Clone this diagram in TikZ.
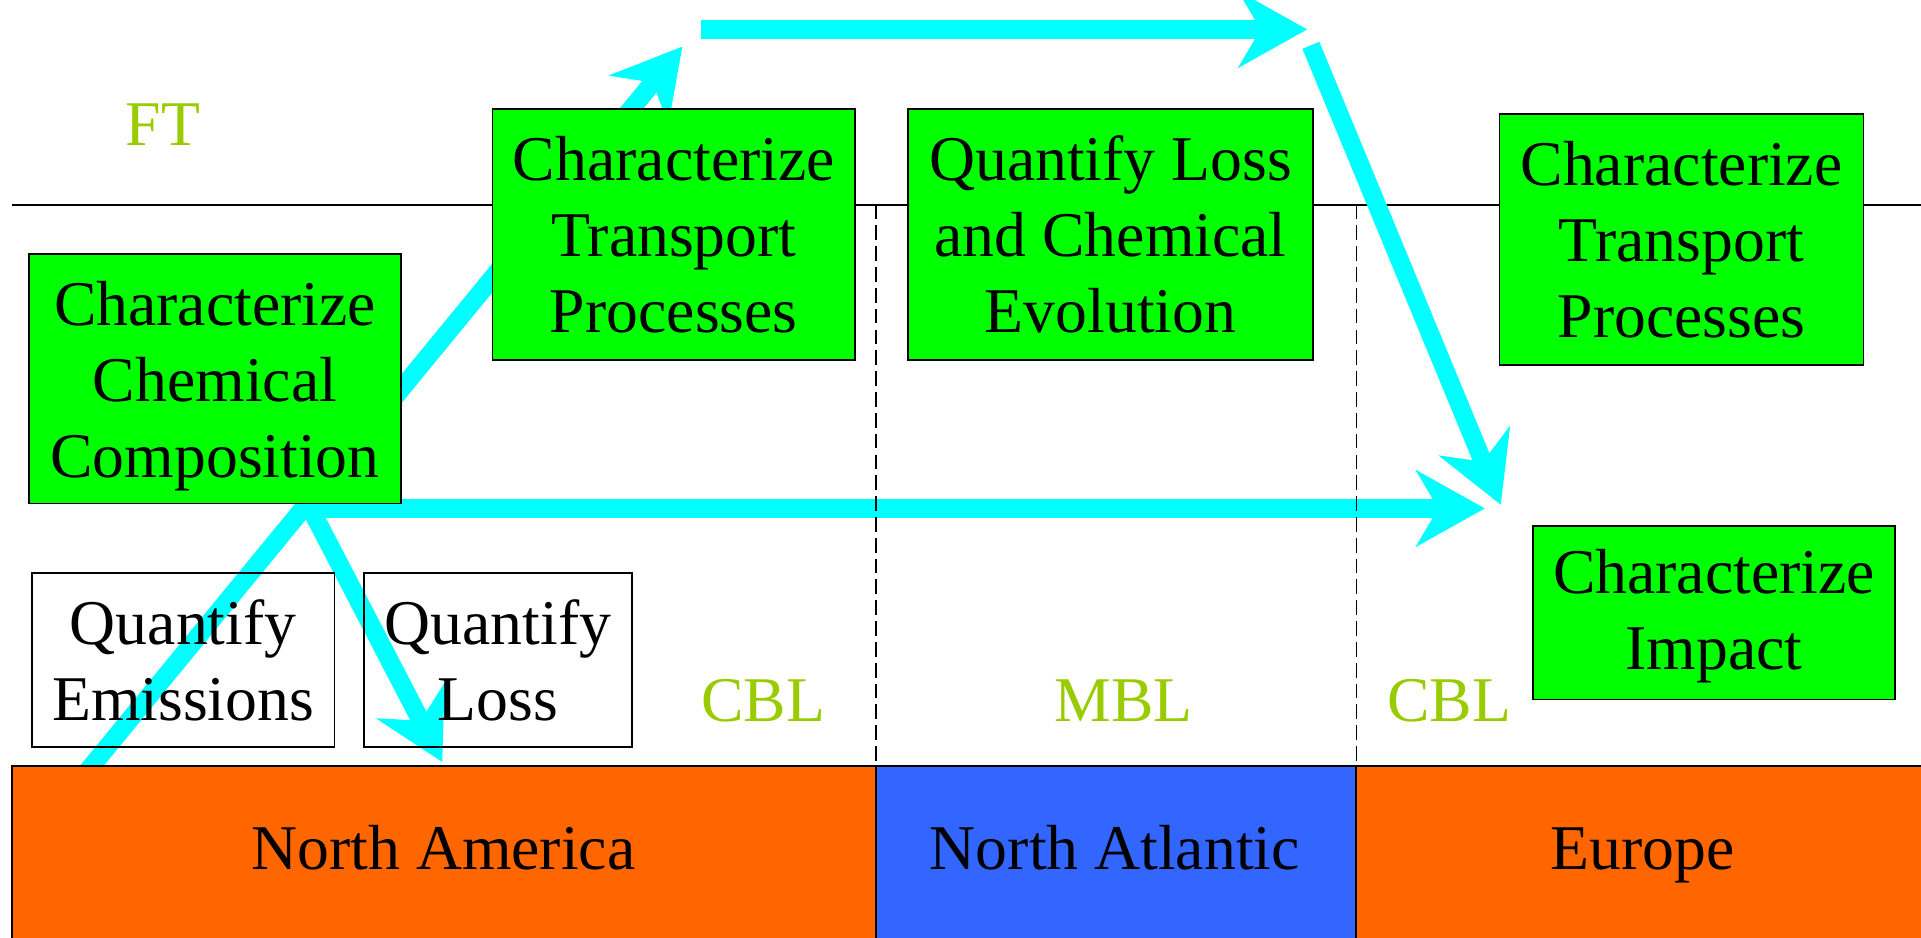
\documentclass[tikz,border=0pt]{standalone}
\usepackage{fontspec}
\setmainfont{Liberation Serif}
\usetikzlibrary{arrows.meta}
\definecolor{boxgreen}{HTML}{00FF00}
\definecolor{flowcyan}{HTML}{00FFFF}
\definecolor{landorange}{HTML}{FF6600}
\definecolor{seablue}{HTML}{3366FF}
\definecolor{layergreen}{HTML}{99CC00}
\begin{document}
\begin{tikzpicture}[x=0.5pt,y=-0.5pt,
  every node/.style={font=\fontsize{26}{31}\selectfont},
  task/.style={draw=black, line width=0.75pt, fill=boxgreen, align=center, inner sep=0pt},
  measure/.style={draw=black, line width=0.75pt, align=center, inner sep=0pt},
  layer/.style={text=layergreen, inner sep=0pt},
  region/.style={anchor=base, inner sep=0pt},
  flow/.style={draw=flowcyan, line width=7.5pt, -{Stealth[length=28pt,width=31pt,inset=9pt]}},
  divider/.style={line width=0.6pt, dash pattern=on 6pt off 2.5pt}
]
\useasboundingbox (0,0) rectangle (1568,765);

% boundary between free troposphere and boundary layer
\draw[line width=0.75pt] (10,167) -- (1568,167);

% transport pathways
\coordinate (srcA) at (62.7,640);
\coordinate (tipA) at (557,38);
\coordinate (apex) at (255,418);
\coordinate (tipB) at (361,622);
\coordinate (hstart) at (250,415);
\coordinate (tipC) at (1212,415);
\coordinate (tstart) at (572,24);
\coordinate (tipD) at (1067,24);
\coordinate (dstart) at (1070,37);
\coordinate (tipE) at (1225,412);
\draw[flow] (srcA) -- (tipA);
\draw[flow] (apex) -- (tipB);
\draw[flow] (hstart) -- (tipC);
\draw[flow] (tstart) -- (tipD);
\draw[flow] (dstart) -- (tipE);

% region dividers in the boundary layer
\draw[divider] (715,167) -- (715,625);
\draw[divider] (1107,167) -- (1107,625);

% measurement boxes
\node[measure, minimum width=123.5pt, minimum height=71pt] (qe) at (149.5,539) {Quantify\\Emissions};
\node[measure, minimum width=109.5pt, minimum height=71pt] (ql) at (406.5,539) {Quantify\\Loss};

% characterization tasks
\node[task, minimum width=151.5pt, minimum height=102pt] (ccc) at (175.5,309) {\rule{0pt}{24pt}Characterize\\Chemical\\Composition};
\node[task, minimum width=148pt, minimum height=102.5pt] (ctp1) at (550,191.5) {Characterize\\Transport\\Processes};
\node[task, minimum width=165.5pt, minimum height=102.5pt] (qlce) at (906.5,191.5) {Quantify Loss\\and Chemical\\Evolution};
\node[task, minimum width=148.5pt, minimum height=102.5pt] (ctp2) at (1372.5,195.5) {Characterize\\Transport\\Processes};
\node[task, minimum width=148pt, minimum height=71pt] (ci) at (1399,500) {\rule{0pt}{21pt}Characterize\\Impact};

% layer labels
\node[layer] (ft) at (133,102) {FT};
\node[layer] (cbl1) at (623,572) {CBL};
\node[layer] (mbl) at (917,572) {MBL};
\node[layer] (cbl2) at (1183,572) {CBL};

% surface strip
\filldraw[fill=landorange, line width=0.75pt] (10,625) rectangle (715,780);
\filldraw[fill=seablue, line width=0.75pt] (715,625) rectangle (1107,780);
\filldraw[fill=landorange, line width=0.75pt] (1107,625) rectangle (1580,780);
\node[region] (na) at (362,710) {North America};
\node[region] (nat) at (910,710) {North Atlantic};
\node[region] (eu) at (1341,710) {Europe};
\end{tikzpicture}
\end{document}
